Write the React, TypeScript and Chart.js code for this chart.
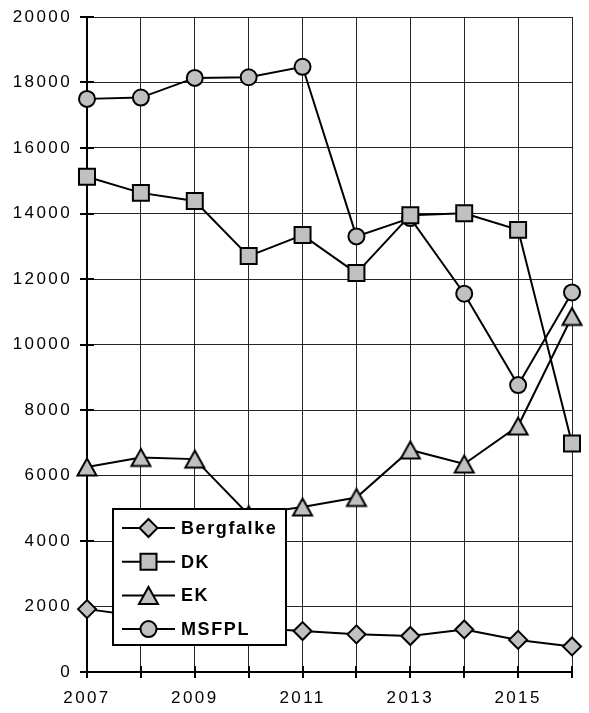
import React, { useEffect, useRef } from 'react';
import { Chart, registerables } from 'chart.js';

Chart.register(...registerables);

const years = ['2007', '2008', '2009', '2010', '2011', '2012', '2013', '2014', '2015', '2016'];
const bergfalke = [1920, 1700, 1500, 1350, 1250, 1150, 1100, 1300, 980, 780];
const dk = [15120, 14630, 14380, 12700, 13340, 12180, 13950, 14010, 13500, 6980];
const ek = [6260, 6550, 6500, 4800, 5040, 5330, 6780, 6350, 7510, 10855];
const msfpl = [17500, 17540, 18140, 18160, 18480, 13300, 13860, 11550, 8760, 11590];
const yMin = 0;
const yMax = 20000;
const yStep = 2000;

const FONT = "'Liberation Sans', Arial, sans-serif";
const FILL = '#c0c0c0';

function triPath(ctx: CanvasRenderingContext2D, cx: number, cy: number) {
  ctx.moveTo(cx, cy - 8.5);
  ctx.lineTo(cx + 9.5, cy + 8.5);
  ctx.lineTo(cx - 9.5, cy + 8.5);
  ctx.closePath();
}

function makeTriangle(): HTMLCanvasElement {
  const c = document.createElement('canvas');
  c.width = 24;
  c.height = 22;
  const ctx = c.getContext('2d')!;
  ctx.beginPath();
  triPath(ctx, 12, 11);
  ctx.fillStyle = FILL;
  ctx.fill();
  ctx.lineWidth = 2;
  ctx.lineJoin = 'miter';
  ctx.strokeStyle = '#000';
  ctx.stroke();
  return c;
}

function drawMarker(ctx: CanvasRenderingContext2D, style: any, x: number, y: number) {
  ctx.beginPath();
  if (style === 'circle') {
    ctx.arc(x, y, 8, 0, Math.PI * 2);
  } else if (style === 'rect') {
    ctx.rect(x - 8, y - 8, 16, 16);
  } else if (style === 'rectRot') {
    const r = 9;
    ctx.moveTo(x, y - r);
    ctx.lineTo(x + r, y);
    ctx.lineTo(x, y + r);
    ctx.lineTo(x - r, y);
    ctx.closePath();
  } else {
    triPath(ctx, x, y);
  }
  ctx.fillStyle = FILL;
  ctx.fill();
  ctx.lineWidth = 2;
  ctx.strokeStyle = '#000';
  ctx.stroke();
}

const SPACING = '2.4px';
const spacingPlugin = {
  id: 'spacing',
  beforeUpdate(chart: any) { chart.ctx.letterSpacing = SPACING; },
  beforeLayout(chart: any) { chart.ctx.letterSpacing = SPACING; },
  beforeDraw(chart: any) { chart.ctx.letterSpacing = SPACING; },
};

const crossTicks = {
  id: 'crossTicks',
  beforeDatasetsDraw(chart: any) {
    const ctx = chart.ctx;
    const xs = chart.scales.x;
    const ys = chart.scales.y;
    ctx.save();
    ctx.strokeStyle = '#000';
    ctx.lineWidth = 2;
    ctx.beginPath();
    for (let v = yMin; v <= yMax; v += yStep) {
      const py = Math.round(ys.getPixelForValue(v));
      ctx.moveTo(xs.left - 7, py);
      ctx.lineTo(xs.left + 7, py);
    }
    for (let i = 0; i < years.length; i++) {
      const px = Math.round(xs.getPixelForValue(i));
      ctx.moveTo(px, ys.bottom - 6);
      ctx.lineTo(px, ys.bottom + 6);
    }
    ctx.stroke();
    ctx.restore();
  },
};

const boxLegend = {
  id: 'boxLegend',
  afterDraw(chart: any) {
    const ctx = chart.ctx;
    const area = chart.chartArea;
    const x0 = area.left + 26;
    const y0 = area.bottom - 163;
    const w = 173;
    const h = 136;
    ctx.save();
    ctx.fillStyle = '#fff';
    ctx.fillRect(x0, y0, w, h);
    ctx.lineWidth = 2;
    ctx.strokeStyle = '#000';
    ctx.strokeRect(x0, y0, w, h);
    chart.data.datasets.forEach((ds: any, i: number) => {
      const cy = y0 + 19 + i * 33.7;
      ctx.beginPath();
      ctx.moveTo(x0 + 9, cy);
      ctx.lineTo(x0 + 62, cy);
      ctx.lineWidth = 2;
      ctx.strokeStyle = '#000';
      ctx.stroke();
      drawMarker(ctx, ds.pointStyle, x0 + 35.5, cy);
      ctx.fillStyle = '#000';
      ctx.font = `bold 18px ${FONT}`;
      ctx.letterSpacing = '1.6px';
      ctx.textAlign = 'left';
      ctx.textBaseline = 'middle';
      ctx.fillText(ds.label, x0 + 68, cy + 1);
    });
    ctx.restore();
  },
};

function mk(label: string, data: number[], pointStyle: any, radius: number) {
  return {
    label,
    data,
    borderColor: '#000',
    borderWidth: 2,
    pointStyle,
    pointRadius: radius,
    pointHoverRadius: radius,
    pointBackgroundColor: FILL,
    pointBorderColor: '#000',
    pointBorderWidth: 2,
    tension: 0,
    fill: false,
  };
}

export default function App() {
  const ref = useRef<HTMLCanvasElement>(null);
  useEffect(() => {
    if (!ref.current) return;
    const tri = makeTriangle();
    const chart = new Chart(ref.current, {
      type: 'line',
      data: {
        labels: years,
        datasets: [
          mk('Bergfalke', bergfalke, 'rectRot', 9),
          mk('DK', dk, 'rect', 11.3),
          mk('EK', ek, tri, 10),
          mk('MSFPL', msfpl, 'circle', 8),
        ],
      },
      options: {
        animation: false,
        responsive: false,
        layout: { padding: { top: 17, right: 17, left: 0, bottom: 0 } },
        plugins: { legend: { display: false }, tooltip: { enabled: false } },
        scales: {
          x: {
            type: 'category',
            offset: false,
            grid: { color: 'rgba(0,0,0,0.85)', lineWidth: 1, drawTicks: true, tickLength: 16, tickColor: 'rgba(0,0,0,0)' },
            border: { display: true, color: '#000', width: 2 },
            ticks: {
              autoSkip: false,
              maxRotation: 0,
              padding: 0,
              color: '#000',
              font: { family: FONT, size: 17 },
              callback: (_v: any, i: number) => (i % 2 === 0 ? years[i] : ''),
            },
            afterFit: (s: any) => { s.height = 41; },
          },
          y: {
            min: yMin,
            max: yMax,
            grid: { color: 'rgba(0,0,0,0.85)', lineWidth: 1, drawTicks: true, tickLength: 15, tickColor: 'rgba(0,0,0,0)' },
            border: { display: true, color: '#000', width: 2 },
            ticks: {
              stepSize: yStep,
              padding: 0,
              color: '#000',
              font: { family: FONT, size: 17 },
              callback: (v: any) => String(v),
            },
            afterFit: (s: any) => { s.width = 87; },
          },
        },
      },
      plugins: [spacingPlugin, crossTicks, boxLegend],
    });
    return () => chart.destroy();
  }, []);
  return (
    <div style={{ position: 'fixed', left: 0, top: 0, width: 589, height: 713, background: '#fff' }}>
      <canvas ref={ref} width={589} height={713} style={{ width: 589, height: 713, display: 'block' }} />
    </div>
  );
}
